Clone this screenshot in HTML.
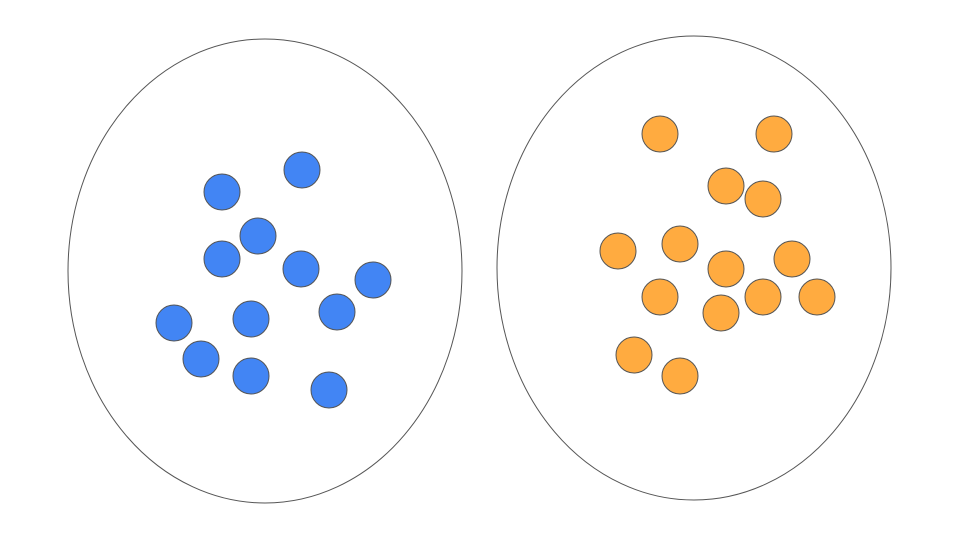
<!DOCTYPE html>
<html>
<head>
<meta charset="utf-8">
<style>
  html, body { margin: 0; padding: 0; background: #ffffff; }
  svg { display: block; }
</style>
</head>
<body>
<svg id="chart" width="960" height="540" viewBox="0 0 960 540" xmlns="http://www.w3.org/2000/svg"></svg>
<script>
// Group ellipses (center x, center y, radius x, radius y) in chart units
const groupNames = ["blue-group", "orange-group"];
const groupCx = [265, 694];
const groupCy = [271, 268];
const groupRx = [197, 197];
const groupRy = [232, 232];

// Blue cluster points
const blueX = [222, 302, 258, 222, 301, 373, 174, 251, 337, 201, 251, 329];
const blueY = [192, 170, 236, 259, 269, 280, 323, 319, 312, 359, 376, 390];

// Orange cluster points
const orangeX = [660, 774, 726, 763, 618, 680, 726, 792, 660, 763, 817, 721, 634, 680];
const orangeY = [134, 134, 186, 199, 251, 244, 269, 259, 297, 297, 297, 313, 355, 376];

// Axis functions (identity-scaled to the 960x540 canvas)
const xScale = v => v * 1;
const yScale = v => v * 1;
const rScale = v => v * 1;

const NS = "http://www.w3.org/2000/svg";
const svg = document.getElementById("chart");

for (let i = 0; i < groupCx.length; i++) {
  const e = document.createElementNS(NS, "ellipse");
  e.setAttribute("cx", xScale(groupCx[i]));
  e.setAttribute("cy", yScale(groupCy[i]));
  e.setAttribute("rx", rScale(groupRx[i]));
  e.setAttribute("ry", rScale(groupRy[i]));
  e.setAttribute("fill", "none");
  e.setAttribute("stroke", "#555555");
  e.setAttribute("stroke-width", "1");
  
  
  svg.appendChild(e);
}

function drawPoints(xs, ys, fill, name) {
  for (let i = 0; i < xs.length; i++) {
    const c = document.createElementNS(NS, "circle");
    c.setAttribute("cx", xScale(xs[i]));
    c.setAttribute("cy", yScale(ys[i]));
    c.setAttribute("r", 18);
    c.setAttribute("fill", fill);
    c.setAttribute("stroke", "#555555");
    c.setAttribute("stroke-width", "1");
    
    
    svg.appendChild(c);
  }
}
drawPoints(blueX, blueY, "#4285f4", "blue-point");
drawPoints(orangeX, orangeY, "#ffab40", "orange-point");
</script>
</body>
</html>
